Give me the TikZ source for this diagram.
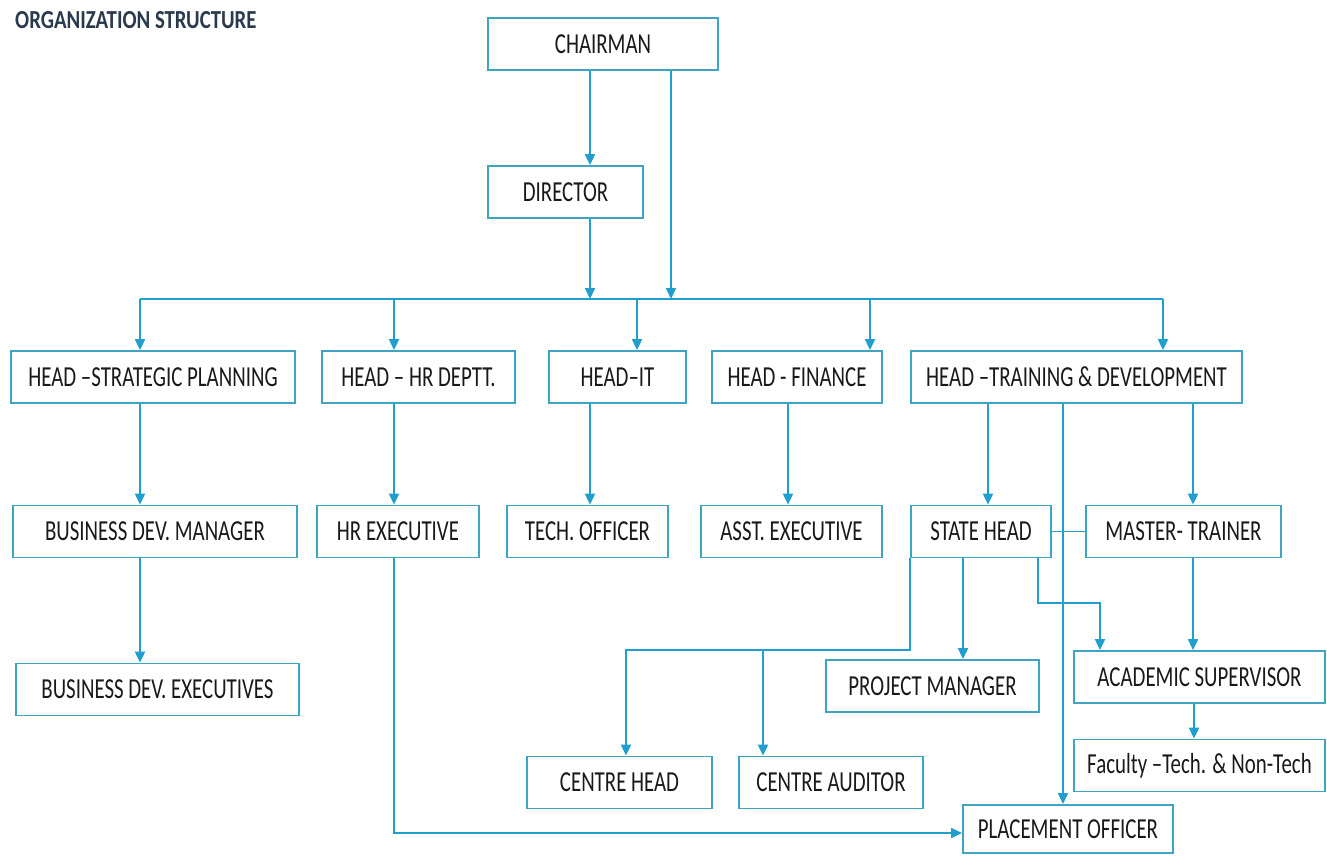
\documentclass[tikz,border=0pt]{standalone}
\usepackage{fontspec}
\setmainfont{Carlito}[FakeStretch=0.72]
\newfontfamily\ttlfont{Carlito}[FakeStretch=0.8]
\usepackage{tikz}
\definecolor{colorLN}{RGB}{32,158,206}
\definecolor{colorBX}{RGB}{62,164,194}
\definecolor{colorTT}{RGB}{42,58,78}
\usetikzlibrary{arrows.meta}
\usetikzlibrary{positioning}
\tikzset{
   every path/.style={>={Triangle[length=11pt,width=10pt]}},
   box/.style={draw=colorBX,line width=1.8pt,minimum height=52pt,inner sep=0pt,text=black!90,font=\fontsize{29}{32}\selectfont},
   link/.style={color=colorLN,line width=1.9pt},
   arr/.style={->,color=colorLN,line width=1.9pt},
   title/.style={anchor=north west,inner sep=0pt,text=colorTT,font=\ttlfont\bfseries\fontsize{26}{28}\selectfont},
}
\begin{document}
\begin{tikzpicture}[x=1pt,y=-1pt]
        \useasboundingbox (0,0) rectangle (1327,855);

        \node[title] (ttl) at (15,11) {ORGANIZATION STRUCTURE};

        \node[box,minimum width=230] (chair) at (603,  44) {CHAIRMAN};
        \node[box,minimum width=155] (dir)   at (565.5,192) {DIRECTOR};

        % heads
        \node[box,minimum width=284] (hsp)  at (153,   377) {HEAD –STRATEGIC PLANNING};
        \node[box,minimum width=193] (hhr)  at (418.5, 377) {HEAD – HR DEPTT.};
        \node[box,minimum width=137] (hit)  at (617.5, 377) {HEAD–IT};
        \node[box,minimum width=170] (hfin) at (797,   377) {HEAD - FINANCE};
        \node[box,minimum width=331] (htd)  at (1076.5,377) {HEAD –TRAINING \& DEVELOPMENT};

        % second row
        \node[box,minimum width=284] (bdm)    at (155,   531.5) {BUSINESS DEV. MANAGER};
        \node[box,minimum width=162] (hre)    at (398,   531.5) {HR EXECUTIVE};
        \node[box,minimum width=161] (tech)   at (587.5, 531.5) {TECH. OFFICER};
        \node[box,minimum width=181] (asst)   at (791.5, 531.5) {ASST. EXECUTIVE};
        \node[box,minimum width=140] (state)  at (981,   531.5) {STATE HEAD};
        \node[box,minimum width=195] (master) at (1183.5,531.5) {MASTER- TRAINER};

        % lower rows
        \node[box,minimum width=283] (bde)  at (157.5, 689.5) {BUSINESS DEV. EXECUTIVES};
        \node[box,minimum width=213] (pm)   at (932.5, 686)   {PROJECT MANAGER};
        \node[box,minimum width=251] (acad) at (1199.5,677)   {ACADEMIC SUPERVISOR};
        \node[box,minimum width=251] (fac)  at (1199.5,765.5) {Faculty –Tech. \& Non-Tech};
        \node[box,minimum width=185] (ch)   at (619.5, 782.5) {CENTRE HEAD};
        \node[box,minimum width=184] (ca)   at (831,   782.5) {CENTRE AUDITOR};
        \node[box,minimum width=210,minimum height=48] (po) at (1068,829) {PLACEMENT OFFICER};

        % chairman and director down to the bus
        \coordinate (dcol) at (590,299);
        \coordinate (ccol) at (671,299);
        \draw[arr] (chair.south -| dcol) -- (dir.north -| dcol);
        \draw[arr] (dir.south -| dcol) -- (dcol);
        \draw[arr] (chair.south -| ccol) -- (ccol);

        \draw[link] (140,299) -- (1163,299);
        \foreach \x/\n in {140/hsp,394/hhr,637/hit,870/hfin,1163/htd} {
          \coordinate (drop) at (\x,299);
          \draw[arr] (drop) -- (\n.north -| drop);
        }

        \foreach \x/\a/\b in {140/hsp/bdm,394/hhr/hre,590/hit/tech,788/hfin/asst,988/htd/state,1193/htd/master,140/bdm/bde,1193/master/acad,1194/acad/fac,963/state/pm,1063/htd/po} {
          \coordinate (col) at (\x,0);
          \draw[arr] (\a.south -| col) -- (\b.north -| col);
        }

        \draw[link] (state.east) -- (master.west);

        % state head to the centres
        \coordinate (chcol) at (626,650);
        \coordinate (cacol) at (763,650);
        \draw[arr] (state.south west) |- (chcol) -- (ch.north -| chcol);
        \draw[arr] (cacol) -- (ca.north -| cacol);

        \coordinate (sa) at (1038,603);
        \coordinate (acol) at (1100,603);
        \draw[arr] (state.south -| sa) -- (sa) -- (acol) -- (acad.north -| acol);

        \coordinate (hrcol) at (394,833);
        \draw[arr] (hre.south -| hrcol) -- (hrcol) -- (po.west |- hrcol);

\end{tikzpicture}
\end{document}
